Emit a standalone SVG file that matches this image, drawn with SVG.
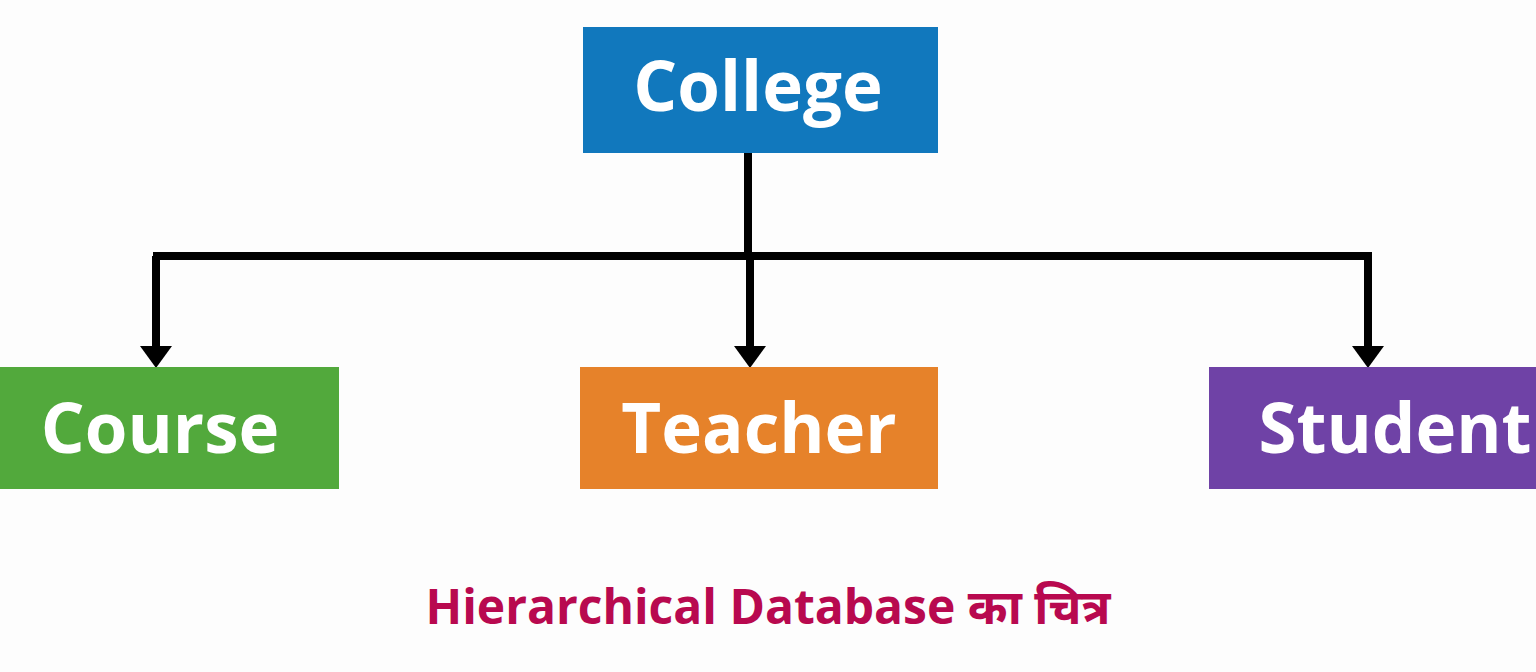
<svg xmlns="http://www.w3.org/2000/svg" width="1536" height="672" viewBox="0 0 1536 672">
<defs>
<style>
.lbl{font-family:"Open Sans","Noto Sans","Liberation Sans",sans-serif;font-weight:700;font-size:69px;fill:#ffffff;}
.title{font-family:"Open Sans","Noto Sans","Liberation Sans",sans-serif;font-weight:700;font-size:48px;fill:#b8094f;}
.wire{fill:none;stroke:#000;stroke-width:8;stroke-linejoin:miter;}
</style>
</defs>
<rect width="1536" height="672" fill="#fdfdfd"/>
<g id="connectors">
<path class="wire" d="M748,153 V256"/>
<path class="wire" d="M153,256 H1372"/>
<path class="wire" d="M156,256 V346"/>
<path class="wire" d="M750,256 V346"/>
<path class="wire" d="M1368,256 V346"/>
<path d="M140,346 L172,346 L156,368 Z" fill="#000"/>
<path d="M734,346 L766,346 L750,368 Z" fill="#000"/>
<path d="M1352,346 L1384,346 L1368,368 Z" fill="#000"/>
</g>
<g id="college">
<rect x="583" y="27" width="355" height="126" fill="#1178bd"/>
<text class="lbl" x="758" y="111" text-anchor="middle">College</text>
</g>
<g id="course">
<rect x="0" y="367" width="339" height="122" fill="#52a93c"/>
<text class="lbl" x="160" y="453" text-anchor="middle">Course</text>
</g>
<g id="teacher">
<rect x="580" y="367" width="358" height="122" fill="#e6822a"/>
<text class="lbl" x="759" y="453" text-anchor="middle">Teacher</text>
</g>
<g id="student">
<rect x="1209" y="367" width="327" height="122" fill="#6f42a6"/>
<text class="lbl" x="1395" y="453" text-anchor="middle">Student</text>
</g>
<text class="title" x="768" y="624" text-anchor="middle">Hierarchical Database का चित्र</text>
</svg>
